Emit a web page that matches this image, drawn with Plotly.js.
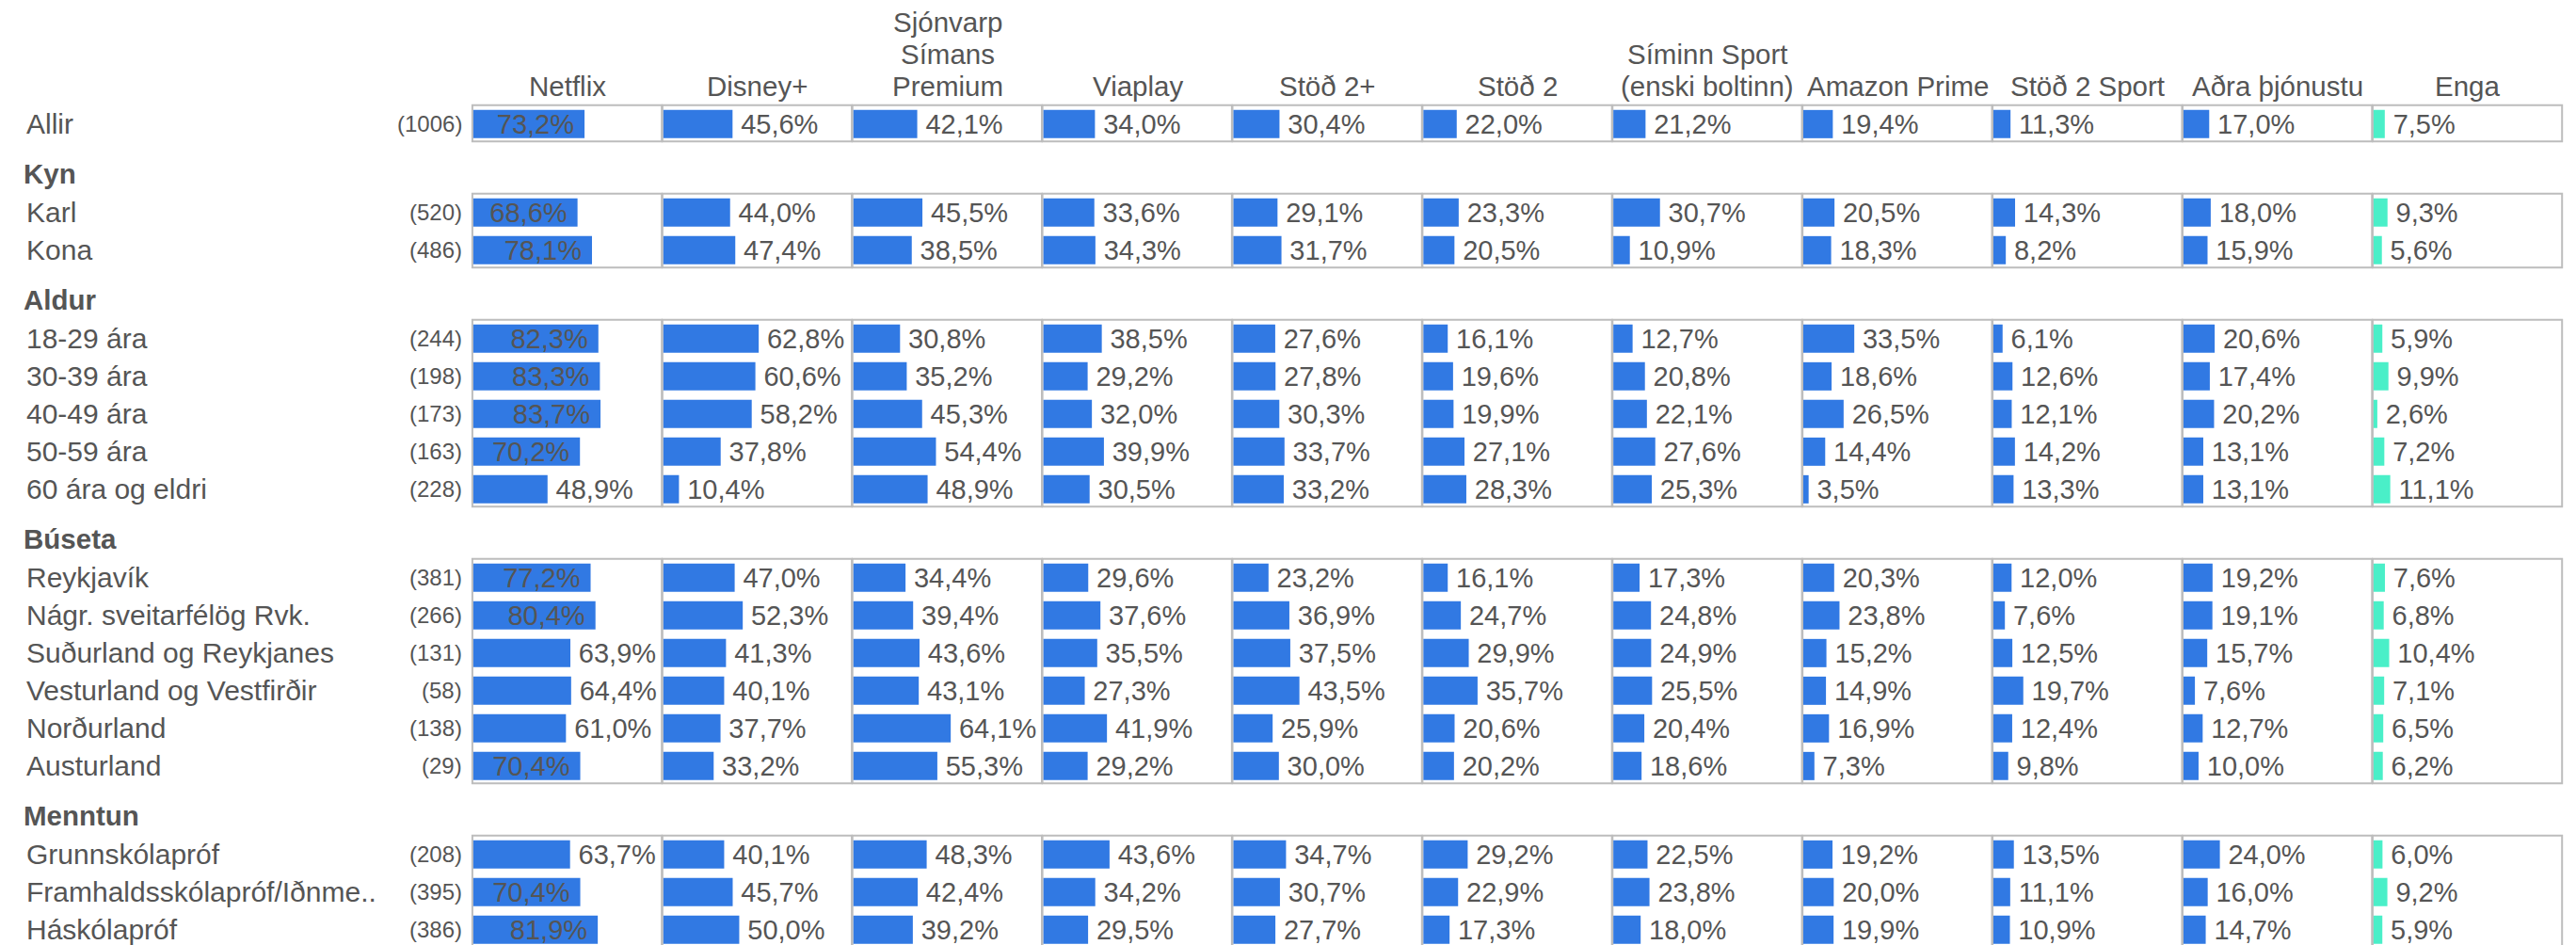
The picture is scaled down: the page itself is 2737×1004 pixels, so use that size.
<!DOCTYPE html>
<html>
<head>
<meta charset="utf-8">
<script src="https://cdn.plot.ly/plotly-3.0.1.min.js"></script>
<style>
  html, body { margin: 0; padding: 0; background: #ffffff; }
  #chart { width: 2737px; height: 1004px; }
</style>
</head>
<body>
<div id="chart"></div>
<script>
// ---------------- DATA ----------------
const services = ["Netflix", "Disney+", "Sjónvarp<br>Símans<br>Premium", "Viaplay", "Stöð 2+", "Stöð 2",
                  "Síminn Sport<br>(enski boltinn)", "Amazon Prime", "Stöð 2 Sport", "Aðra þjónustu", "Enga"];

const sectionTitles = ["", "Kyn", "Aldur", "Búseta", "Menntun"];
const sectionSizes  = [1, 2, 5, 6, 3];

const rowLabels = ["Allir",
  "Karl", "Kona",
  "18-29 ára", "30-39 ára", "40-49 ára", "50-59 ára", "60 ára og eldri",
  "Reykjavík", "Nágr. sveitarfélög Rvk.", "Suðurland og Reykjanes", "Vesturland og Vestfirðir", "Norðurland", "Austurland",
  "Grunnskólapróf", "Framhaldsskólapróf/Iðnme..", "Háskólapróf"];

const rowN = [1006, 520, 486, 244, 198, 173, 163, 228, 381, 266, 131, 58, 138, 29, 208, 395, 386];

const netflix  = [73.2, 68.6, 78.1, 82.3, 83.3, 83.7, 70.2, 48.9, 77.2, 80.4, 63.9, 64.4, 61.0, 70.4, 63.7, 70.4, 81.9];
const disney   = [45.6, 44.0, 47.4, 62.8, 60.6, 58.2, 37.8, 10.4, 47.0, 52.3, 41.3, 40.1, 37.7, 33.2, 40.1, 45.7, 50.0];
const simansPremium = [42.1, 45.5, 38.5, 30.8, 35.2, 45.3, 54.4, 48.9, 34.4, 39.4, 43.6, 43.1, 64.1, 55.3, 48.3, 42.4, 39.2];
const viaplay  = [34.0, 33.6, 34.3, 38.5, 29.2, 32.0, 39.9, 30.5, 29.6, 37.6, 35.5, 27.3, 41.9, 29.2, 43.6, 34.2, 29.5];
const stod2plus = [30.4, 29.1, 31.7, 27.6, 27.8, 30.3, 33.7, 33.2, 23.2, 36.9, 37.5, 43.5, 25.9, 30.0, 34.7, 30.7, 27.7];
const stod2    = [22.0, 23.3, 20.5, 16.1, 19.6, 19.9, 27.1, 28.3, 16.1, 24.7, 29.9, 35.7, 20.6, 20.2, 29.2, 22.9, 17.3];
const siminnSport = [21.2, 30.7, 10.9, 12.7, 20.8, 22.1, 27.6, 25.3, 17.3, 24.8, 24.9, 25.5, 20.4, 18.6, 22.5, 23.8, 18.0];
const amazon   = [19.4, 20.5, 18.3, 33.5, 18.6, 26.5, 14.4, 3.5, 20.3, 23.8, 15.2, 14.9, 16.9, 7.3, 19.2, 20.0, 19.9];
const stod2sport = [11.3, 14.3, 8.2, 6.1, 12.6, 12.1, 14.2, 13.3, 12.0, 7.6, 12.5, 19.7, 12.4, 9.8, 13.5, 11.1, 10.9];
const adra     = [17.0, 18.0, 15.9, 20.6, 17.4, 20.2, 13.1, 13.1, 19.2, 19.1, 15.7, 7.6, 12.7, 10.0, 24.0, 16.0, 14.7];
const enga     = [7.5, 9.3, 5.6, 5.9, 9.9, 2.6, 7.2, 11.1, 7.6, 6.8, 10.4, 7.1, 6.5, 6.2, 6.0, 9.2, 5.9];

const seriesValues = [netflix, disney, simansPremium, viaplay, stod2plus, stod2, siminnSport, amazon, stod2sport, adra, enga];

// ---------------- LAYOUT CONSTANTS ----------------
const W = 2737, H = 1004;
const FONT = "Liberation Sans, Arial, Helvetica, sans-serif";
const TXT = "#555555";
const BLUE = "#3179E3";
const TEAL = "#4AEFC8";
const panelLeft = 502.7, panelPitch = 201.9, panelWidth = 200.5;
const firstRowY = 131.85, rowPitch = 40, sectionGap = 54;
const titleBottom = 110, titleLinePitch = 34;
const xMax = 124;

// row center positions (pixel units on the y axis)
const rowY = [];
const sectionFirst = [], sectionLast = [];
let idx = 0;
sectionSizes.forEach((n, s) => {
  for (let r = 0; r < n; r++) {
    rowY.push(firstRowY + idx * rowPitch + s * sectionGap);
    if (r === 0) sectionFirst.push(rowY[idx]);
    if (r === n - 1) sectionLast.push(rowY[idx]);
    idx++;
  }
});

const fmt = v => v.toFixed(1).replace(".", ",") + "%";

const traces = [];
const layout = {
  width: W, height: H,
  margin: {l: 0, r: 0, t: 0, b: 0, pad: 0},
  paper_bgcolor: "#ffffff",
  plot_bgcolor: "rgba(0,0,0,0)",
  showlegend: false,
  hovermode: false,
  font: {family: FONT, color: TXT, size: 29},
  yaxis: {range: [H, 0], domain: [0, 1], visible: false, fixedrange: true},
  annotations: [],
  shapes: []
};

seriesValues.forEach((vals, i) => {
  const ax = i === 0 ? "" : String(i + 1);
  const x0 = (panelLeft + i * panelPitch) / W;
  const x1 = (panelLeft + i * panelPitch + panelWidth) / W;
  layout["xaxis" + ax] = {domain: [x0, x1], range: [0, xMax], visible: false, fixedrange: true, anchor: "y"};
  const inside = vals.map(v => v >= 65);
  traces.push({
    type: "bar",
    orientation: "h",
    x: vals,
    y: rowY,
    width: rowY.map(() => 30),
    xaxis: "x" + ax,
    yaxis: "y",
    marker: {color: i === seriesValues.length - 1 ? TEAL : BLUE, line: {width: 0}},
    text: vals.map((v, k) => inside[k] ? fmt(v) + "\u00A0" : "\u2009" + fmt(v)),
    textposition: inside.map(b => b ? "inside" : "outside"),
    insidetextanchor: "end",
    constraintext: "none",
    cliponaxis: false,
    textfont: {family: FONT, size: 29, color: TXT},
    insidetextfont: {family: FONT, size: 29, color: TXT},
    outsidetextfont: {family: FONT, size: 29, color: TXT},
    hoverinfo: "skip"
  });
  // column title, one annotation per line for tighter line spacing
  const lines = services[i].split("<br>");
  lines.forEach((ln, j) => {
    layout.annotations.push({
      xref: "x" + ax + " domain", x: 0.5, xanchor: "center",
      yref: "y", y: titleBottom - (lines.length - 1 - j) * titleLinePitch, yanchor: "bottom",
      text: ln, showarrow: false,
      font: {family: FONT, size: 29.5, color: TXT}
    });
  });
  // panel frames
  sectionSizes.forEach((n, s) => {
    layout.shapes.push({
      type: "rect", layer: "below",
      xref: "x" + ax + " domain", x0: -0.004, x1: 1,
      yref: "y", y0: sectionFirst[s] - 20, y1: sectionLast[s] + 18.5,
      line: {color: "#BDBDBD", width: 2},
      fillcolor: "rgba(0,0,0,0)"
    });
  });
});

// section headers
sectionTitles.forEach((t, s) => {
  if (!t) return;
  layout.annotations.push({
    xref: "paper", x: 23 / W, xanchor: "left",
    yref: "y", y: sectionFirst[s] - 41, yanchor: "middle",
    text: "<b>" + t + "</b>", showarrow: false,
    font: {family: FONT, size: 29.5, color: TXT}
  });
});

// row labels and n counts
rowLabels.forEach((lab, k) => {
  layout.annotations.push({
    xref: "paper", x: 26 / W, xanchor: "left",
    yref: "y", y: rowY[k], yanchor: "middle",
    text: lab, showarrow: false,
    font: {family: FONT, size: 30, color: TXT}
  });
  layout.annotations.push({
    xref: "paper", x: 493 / W, xanchor: "right",
    yref: "y", y: rowY[k], yanchor: "middle",
    text: "(" + rowN[k] + ")", showarrow: false,
    font: {family: FONT, size: 24, color: TXT}
  });
});

Plotly.newPlot("chart", traces, layout, {staticPlot: true, displayModeBar: false});
</script>
</body>
</html>
